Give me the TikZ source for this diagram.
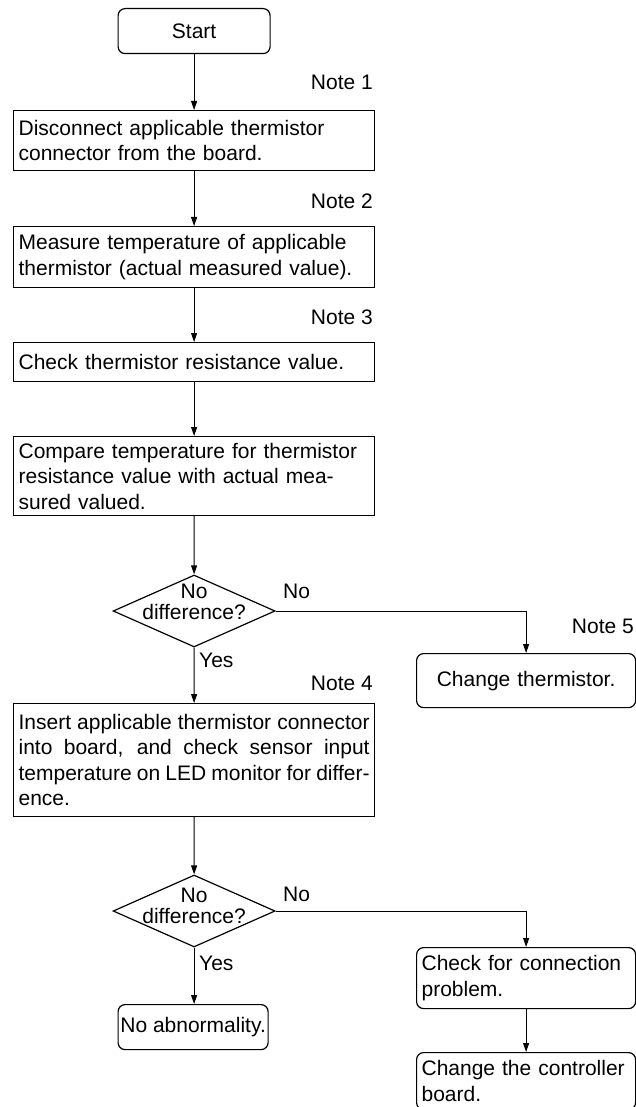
\documentclass[tikz,border=0pt]{standalone}
\usepackage{fontspec}
\setmainfont{Liberation Sans}
\usetikzlibrary{shapes.geometric,arrows.meta}
\newcommand{\jline}[1]{\leavevmode\hbox to 351pt{\spaceskip=0.15em plus 1fil minus 0.05em\relax #1}}
\begin{document}
\begin{tikzpicture}[x=1pt,y=-1pt,
  every node/.style={font=\fontsize{21}{25.5}\selectfont, text=black},
  box/.style={draw, line width=1.2pt, anchor=north west, inner xsep=5pt, inner ysep=0pt, align=left},
  rbox/.style={box, rounded corners=7pt},
  lbox/.style={box, minimum width=361pt, text width=351pt},
  rcol/.style={rbox, minimum width=219pt, text width=209pt},
  lab/.style={inner sep=0pt},
  dtext/.style={inner sep=0pt, align=center, font=\fontsize{21}{20.5}\selectfont},
  arr/.style={line width=1pt, -{Triangle[length=9pt,width=6pt]}},
  dia/.style={diamond, draw, line width=1.2pt, minimum width=162pt, minimum height=72pt, inner sep=0pt}
]
\useasboundingbox (0,0) rectangle (636,1107);

% main column
\node[rbox, minimum width=152pt, minimum height=45pt, align=center, text width=142pt] (start) at (117.5,8) {Start};
\node[lbox, minimum height=60pt] (b1) at (13,110) {Disconnect applicable thermistor\\connector from the board.};
\node[lbox, minimum height=61pt] (b2) at (13,226) {Measure temperature of applicable\\thermistor (actual measured value).};
\node[lbox, minimum height=39pt] (b3) at (13,342) {Check thermistor resistance value.};
\node[lbox, minimum height=79pt] (b4) at (13,436) {Compare temperature for thermistor\\resistance value with actual mea-\\sured valued.};
\node[dia] (d1) at (194.1,611) {};
\node[dtext] (d1t) at (194.1,602) {No\\difference?};
\node[lbox, minimum height=113pt] (b5) at (13,703) {\jline{Insert applicable thermistor connector}\\\jline{into board, and check sensor input}\\\jline{temperature on LED monitor for differ-}\\ence.};
\node[dia] (d2) at (194.1,911) {};
\node[dtext] (d2t) at (194.1,906) {No\\difference?};
\node[rbox, minimum width=150pt, minimum height=45pt, inner xsep=2pt, align=center] (na) at (117.5,1004) {No abnormality.};

% right column
\node[rcol, minimum height=54pt, align=center] (ct) at (416,653) {Change thermistor.};
\node[rcol, minimum height=61pt] (ck) at (416,947) {Check for connection\\problem.};
\node[rcol, minimum height=57pt] (cb) at (416,1052) {Change the controller\\board.};

% notes and labels
\node[lab, anchor=east] (n1) at (373,82) {Note 1};
\node[lab, anchor=east] (n2) at (373,201) {Note 2};
\node[lab, anchor=east] (n3) at (373,317) {Note 3};
\node[lab, anchor=east] (n4) at (373,683) {Note 4};
\node[lab, anchor=east] (n5) at (634,626) {Note 5};
\node[lab, anchor=west] (no1) at (283,591) {No};
\node[lab, anchor=west] (yes1) at (199,660) {Yes};
\node[lab, anchor=west] (no2) at (283,894) {No};
\node[lab, anchor=west] (yes2) at (199,963) {Yes};

% connectors
\draw[arr] (start.south) -- (start.south |- b1.north);
\draw[arr] (b1.south) -- (b2.north);
\draw[arr] (b2.south) -- (b3.north);
\draw[arr] (b3.south) -- (b4.north);
\draw[arr] (b4.south) -- (d1.north);
\draw[arr] (d1.south) -- (b5.north);
\draw[arr] (d1.east) -| (ct.north);
\draw[arr] (b5.south) -- (d2.north);
\draw[arr] (d2.south) -- (d2.south |- na.north);
\draw[arr] (d2.east) -| (ck.north);
\draw[arr] (ck.south) -- (cb.north);
\end{tikzpicture}
\end{document}
